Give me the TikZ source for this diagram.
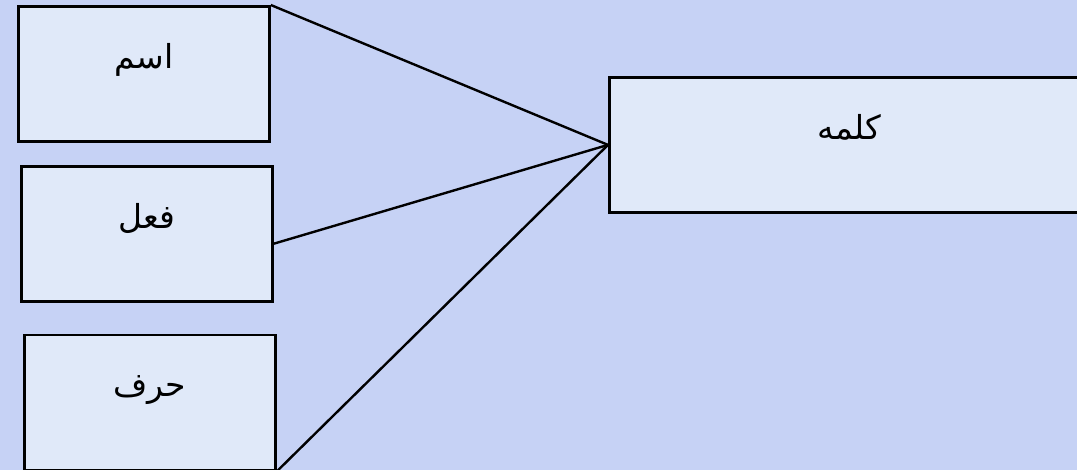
\documentclass[tikz,border=0pt]{standalone}
\usepackage{fontspec}
\newfontfamily\arabicfont[Script=Arabic]{DejaVu Sans}
\TeXXeTstate=1
\usetikzlibrary{positioning}
\definecolor{pagebg}{RGB}{198,210,245}
\definecolor{boxbg}{RGB}{224,233,249}

\begin{document}
\begin{tikzpicture}[
x=1pt, y=-1pt,
wordbox/.style={draw, line width=2.8pt, fill=boxbg, anchor=north west, inner sep=0pt,
  minimum width=251pt, text height=62pt, text depth=73pt,
  font=\arabicfont\fontsize{33}{38}\selectfont},
link/.style={line width=2.4pt}
]
\fill[pagebg] (0,0) rectangle (1077,470);
\useasboundingbox (0,0) rectangle (1077,470);

\node[wordbox] (ism) at (17,5) {\beginR اسم\endR};
\node[wordbox, below=22pt of ism.south west, anchor=north west, xshift=3pt] (fil) {\beginR فعل\endR};
\node[wordbox, below=31pt of fil.south west, anchor=north west, xshift=3pt] (harf) {\beginR حرف\endR};
\node[wordbox, minimum width=480pt] (kalima) at (608,76) {\beginR کلمه\endR};

\draw[link] (ism.north east) -- (kalima.west);
\draw[link] ([yshift=-10pt]fil.east) -- (kalima.west);
\draw[link] (harf.south east) -- (kalima.west);
\end{tikzpicture}
\end{document}
